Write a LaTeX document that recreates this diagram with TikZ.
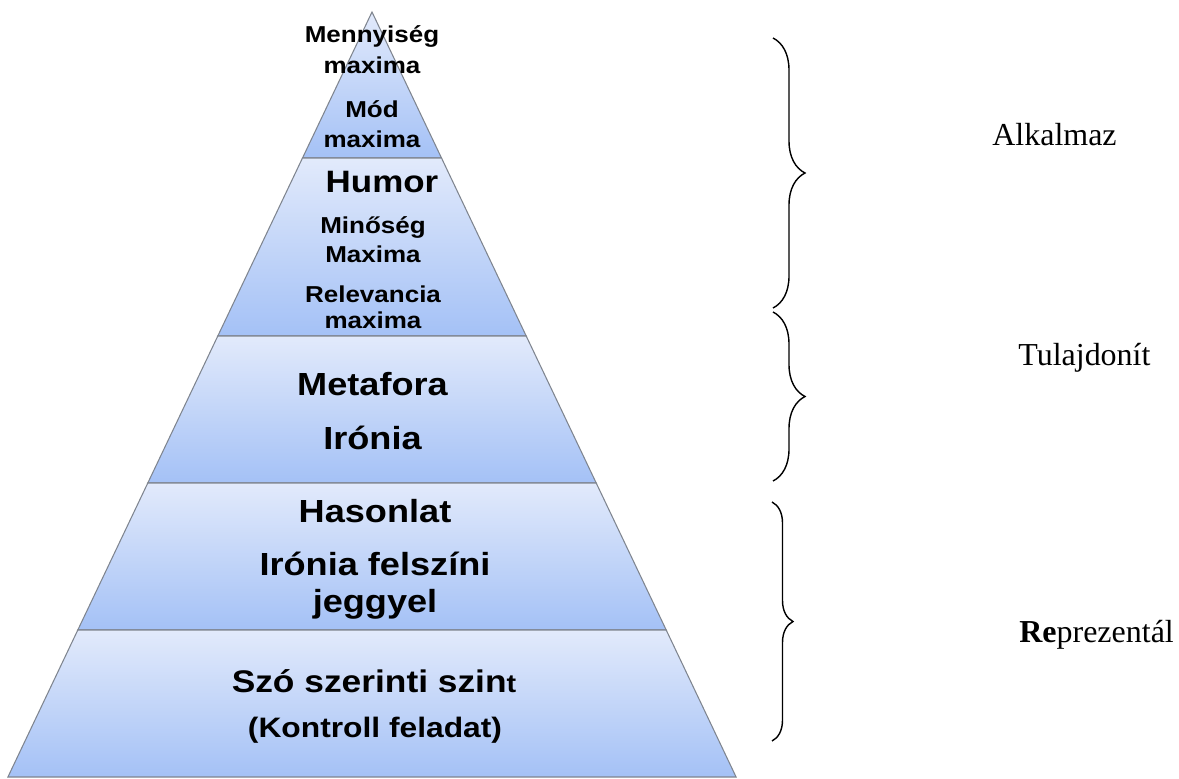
\documentclass[tikz,border=0pt]{standalone}
\usepackage{fontspec}
\setmainfont{Liberation Serif}
\newfontfamily\pyrfont{Liberation Sans}
\usetikzlibrary{decorations.pathreplacing}

\definecolor{layertop}{HTML}{E2EAFB}
\definecolor{layerbot}{HTML}{A4C1F6}
\definecolor{layerline}{HTML}{7F858F}

\tikzset{
  layer/.style={draw=layerline, line width=0.6pt, top color=layertop, bottom color=layerbot},
  pyr/.style={anchor=base, inner sep=0pt, xscale=1.13, font=\pyrfont\bfseries\fontsize{#1}{#1}\selectfont},
  label/.style={anchor=base west, inner sep=0pt, font=\fontsize{18.2}{20}\selectfont},
  bracket/.style={decorate, decoration={brace, amplitude=#1}, line width=0.8pt}
}

\begin{document}
\begin{tikzpicture}[x=0.02cm, y=-0.02cm]
      \useasboundingbox (0,0) rectangle (1179,778);
      \path[layer] (372,12) -- (441.5,158) -- (302.5,158) -- cycle;
      \path[layer] (302.5,158) -- (441.5,158) -- (526.2,336) -- (217.8,336) -- cycle;
      \path[layer] (217.8,336) -- (526.2,336) -- (596.2,483) -- (147.8,483) -- cycle;
      \path[layer] (147.8,483) -- (596.2,483) -- (666.2,630) -- (77.8,630) -- cycle;
      \path[layer] (77.8,630) -- (666.2,630) -- (736.1,777) -- (7.9,777) -- cycle;
      \node[pyr=13.1] (mennyiseg) at (372,42) {Mennyiség};
      \node[pyr=13.1] (maxima1) at (372,73) {maxima};
      \node[pyr=13.1] (mod) at (372,117) {Mód};
      \node[pyr=13.1] (maxima2) at (372,147) {maxima};
      \node[pyr=17.6] (humor) at (382,192) {Humor};
      \node[pyr=13.1] (minoseg) at (373,233) {Minőség};
      \node[pyr=13.1] (maxima3) at (373,262) {Maxima};
      \node[pyr=13.1] (relevancia) at (373,302) {Relevancia};
      \node[pyr=13.1] (maxima4) at (373,328) {maxima};
      \node[pyr=18.2] (metafora) at (372.5,395) {Metafora};
      \node[pyr=18.2] (ironia) at (372.5,449) {Irónia};
      \node[pyr=18.2] (hasonlat) at (375,522) {Hasonlat};
      \node[pyr=18.2] (ironiafelszini) at (375,575) {Irónia felszíni};
      \node[pyr=18.2] (jeggyel) at (375,612) {jeggyel};
      \node[pyr=17.8] (szo) at (374,692) {Szó szerinti szin{\fontsize{14.5}{14.5}\selectfont t}};
      \node[pyr=16] (kontroll) at (375,737) {(Kontroll feladat)};
      \coordinate (alk top) at (773,38);
      \coordinate (alk bot) at (773,308);
      \coordinate (tul top) at (773,312);
      \coordinate (tul bot) at (773,481);
      \coordinate (rep top) at (772,502);
      \coordinate (rep bot) at (772,741);
      \draw[bracket=0.64cm] (alk top) -- (alk bot);
      \draw[bracket=0.64cm] (tul top) -- (tul bot);
      \draw[bracket=0.42cm] (rep top) -- (rep bot);
      \node[label] (alkalmaz) at (992,145) {Alkalmaz};
      \node[label] (tulajdonit) at (1018,365) {Tulajdonít};
      \node[label] (reprezental) at (1019,642) {\textbf{Re}prezentál};
    \end{tikzpicture}
\end{document}
